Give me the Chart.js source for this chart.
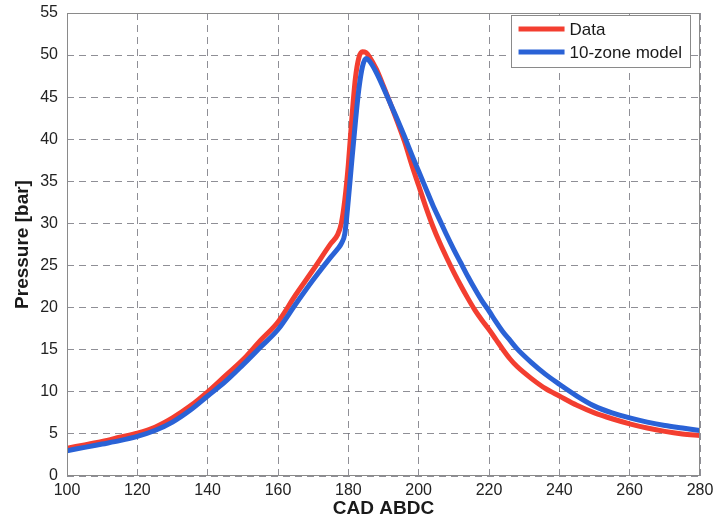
<!DOCTYPE html>
<html>
<head>
<meta charset="utf-8">
<title>Pressure vs CAD ABDC</title>
<script src="https://cdn.jsdelivr.net/npm/chart.js@4.4.1/dist/chart.umd.min.js"></script>
<style>
  html, body { margin: 0; padding: 0; background: #fff; }
  #wrap { width: 716px; height: 521px; }
</style>
</head>
<body>
<div id="wrap"><canvas id="pressureChart" width="716" height="521"></canvas></div>
<script>
'use strict';

// ********************* DATA *********************

let crankAngles = [100, 105, 110, 115, 120, 125, 130, 135, 140, 145, 150, 155, 160, 165, 170, 175, 177, 178, 179, 180,
  181, 182, 183, 184, 185, 186, 188, 190, 192, 194, 196, 198, 200, 202, 204, 206, 208, 210, 212, 214,
  216, 218, 220, 222, 224, 226, 228, 232, 236, 240, 245, 250, 255, 260, 265, 270, 275, 280];

let measuredPressure = [3.3, 3.7, 4.1, 4.6, 5.1, 5.8, 6.9, 8.3, 10.0, 11.9, 13.8, 16.1, 18.3, 21.5, 24.5, 27.6, 28.7, 30.0, 32.8, 37.0,
  42.5, 47.2, 49.7, 50.4, 50.3, 49.8, 48.3, 46.3, 44.2, 42.0, 39.7, 37.0, 34.5, 32.0, 29.7, 27.7, 25.9, 24.2, 22.6, 21.1,
  19.7, 18.5, 17.4, 16.2, 15.0, 13.9, 13.0, 11.6, 10.4, 9.5, 8.4, 7.5, 6.8, 6.2, 5.7, 5.3, 5.0, 4.8];

let modelPressure = [3.0, 3.4, 3.8, 4.2, 4.7, 5.4, 6.4, 7.8, 9.5, 11.2, 13.2, 15.3, 17.4, 20.4, 23.3, 26.0, 27.0, 27.6, 28.8, 32.8,
  37.5, 42.0, 46.0, 48.6, 49.6, 49.3, 47.9, 46.1, 44.2, 42.3, 40.3, 38.2, 36.2, 34.2, 32.2, 30.4, 28.6, 26.9, 25.3, 23.7,
  22.2, 20.8, 19.6, 18.3, 17.1, 16.1, 15.1, 13.5, 12.1, 10.9, 9.5, 8.3, 7.5, 6.9, 6.4, 6.0, 5.7, 5.4];

let seriesNames = ['Data', '10-zone model'];
let xTickRange = [100, 280, 20];
let yTickRange = [0, 55, 5];

// ********************* HELPERS *********************

function toPoints(xs, ys) {
  let pts = [];
  for (let i = 0; i < xs.length; i++) {
    pts.push({ x: xs[i], y: ys[i] });
  }
  return pts;
}

const FONT = '"Liberation Sans", Arial, Helvetica, sans-serif';
const RED = 'rgb(243, 62, 48)';
const BLUE = 'rgb(42, 98, 214)';

// frame round the plot area, like a MATLAB "box on"
const boxPlugin = {
  id: 'boxFrame',
  afterDatasetsDraw(chart) {
    const a = chart.chartArea;
    const c = chart.ctx;
    c.save();
    c.strokeStyle = '#8a8a8a';
    c.lineWidth = 1;
    c.strokeRect(a.left + 0.5, a.top + 0.5, a.right - a.left - 1, a.bottom - a.top - 1);
    c.restore();
  }
};

// legend drawn inside the top right corner
const insideLegend = {
  id: 'insideLegend',
  afterDraw(chart) {
    const a = chart.chartArea;
    const c = chart.ctx;
    const sets = chart.data.datasets;
    c.save();
    c.font = '17px ' + FONT;
    let maxW = 0;
    sets.forEach(ds => { maxW = Math.max(maxW, c.measureText(ds.label).width); });
    const lineLen = 46;
    const boxW = 8 + lineLen + 5 + maxW + 8;
    const rowH = 23;
    const boxH = 52;
    const bx = a.right - 10 - boxW;
    const by = a.top + 2;
    c.fillStyle = '#fff';
    c.fillRect(bx, by, boxW, boxH);
    c.strokeStyle = '#8a8a8a';
    c.lineWidth = 1;
    c.strokeRect(Math.round(bx) + 0.5, Math.round(by) + 0.5, Math.round(boxW), boxH);
    sets.forEach((ds, i) => {
      const yy = by + 14 + i * rowH;
      c.strokeStyle = ds.borderColor;
      c.lineWidth = 5;
      c.beginPath();
      c.moveTo(bx + 8, yy);
      c.lineTo(bx + 8 + lineLen, yy);
      c.stroke();
      c.fillStyle = '#1a1a1a';
      c.textBaseline = 'middle';
      c.fillText(ds.label, bx + 8 + lineLen + 5, yy + 1);
    });
    c.restore();
  }
};

// ********************* CHART *********************

let ctx = document.getElementById('pressureChart');

new Chart(ctx, {
  type: 'scatter',
  data: {
    datasets: [
      {
        label: seriesNames[0],
        data: toPoints(crankAngles, measuredPressure),
        showLine: true,
        borderColor: RED,
        backgroundColor: RED,
        borderWidth: 5,
        pointRadius: 0,
        cubicInterpolationMode: 'monotone',
        order: 2
      },
      {
        label: seriesNames[1],
        data: toPoints(crankAngles, modelPressure),
        showLine: true,
        borderColor: BLUE,
        backgroundColor: BLUE,
        borderWidth: 5,
        pointRadius: 0,
        cubicInterpolationMode: 'monotone',
        order: 1
      }
    ]
  },
  options: {
    responsive: false,
    animation: false,
    layout: { padding: { top: 13, right: 16, left: 0, bottom: 0 } },
    plugins: {
      legend: { display: false },
      tooltip: { enabled: false }
    },
    scales: {
      x: {
        type: 'linear',
        min: xTickRange[0],
        max: xTickRange[1],
        afterFit(scale) {
          scale.height = 45;
          scale.paddingLeft = 0;
          scale.paddingRight = 0;
        },
        ticks: {
          stepSize: xTickRange[2],
          padding: 5,
          color: '#222',
          font: { family: FONT, size: 16 },
          maxRotation: 0
        },
        grid: { color: 'rgba(105, 105, 115, 0.75)', lineWidth: 1, drawTicks: false, tickLength: 0 },
        border: { display: false, dash: [7, 5] },
        title: {
          display: true,
          text: 'CAD ABDC',
          color: '#1a1a1a',
          font: { family: FONT, size: 19, weight: 'bold' },
          padding: { top: 0, bottom: 1 }
        }
      },
      y: {
        type: 'linear',
        min: yTickRange[0],
        max: yTickRange[1],
        afterFit(scale) {
          scale.width = 67;
          scale.paddingTop = 0;
          scale.paddingBottom = 0;
        },
        ticks: {
          stepSize: yTickRange[2],
          padding: 9,
          color: '#222',
          font: { family: FONT, size: 16 }
        },
        grid: { color: 'rgba(105, 105, 115, 0.75)', lineWidth: 1, drawTicks: false, tickLength: 0 },
        border: { display: false, dash: [7, 5] },
        title: {
          display: true,
          text: 'Pressure [bar]',
          color: '#1a1a1a',
          font: { family: FONT, size: 19, weight: 'bold' },
          padding: { top: 11, bottom: 0 }
        }
      }
    }
  },
  plugins: [boxPlugin, insideLegend]
});
</script>
</body>
</html>
